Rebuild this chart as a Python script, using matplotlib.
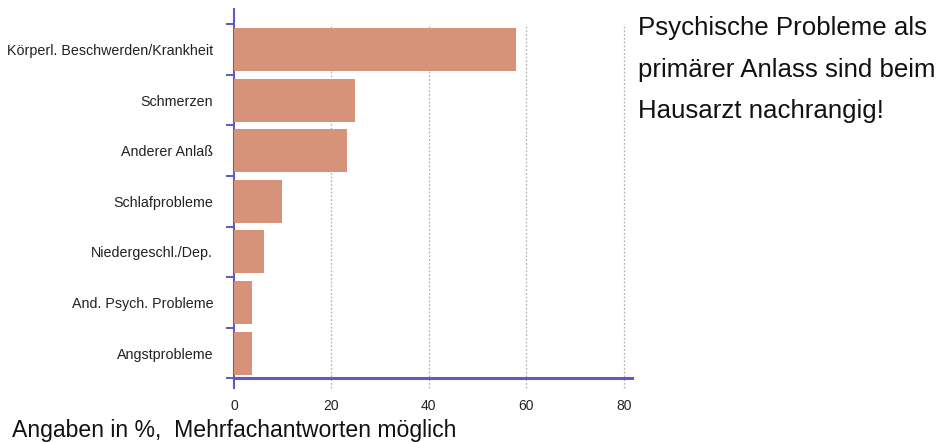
import matplotlib
matplotlib.use("Agg")
import matplotlib.pyplot as plt
from matplotlib.transforms import blended_transform_factory

plt.rcParams['font.family'] = ['Liberation Sans', 'DejaVu Sans']

# Reasons for visiting the GP (top to bottom), percentages
categories = [
    "Körperl. Beschwerden/Krankheit",
    "Schmerzen",
    "Anderer Anlaß",
    "Schlafprobleme",
    "Niedergeschl./Dep.",
    "And. Psych. Probleme",
    "Angstprobleme",
]
values = [57.8, 24.8, 23.1, 9.9, 6.2, 3.7, 3.7]
x_ticks = [0, 20, 40, 60, 80]

bar_color = "#d6937a"
axis_color = "#6457c6"
grid_color = "#b4b4b4"

W, H = 941, 442
fig = plt.figure(figsize=(W / 100, H / 100), dpi=100)
fig.patch.set_facecolor("white")

# axes box in pixels
left_px, right_px, top_px, bottom_px = 234, 632, 9, 378.3
ax = fig.add_axes([left_px / W, 1 - bottom_px / H,
                   (right_px - left_px) / W, (bottom_px - top_px) / H])

n = len(categories)
pos = list(range(n - 1, -1, -1))
ax.barh(pos, values, height=0.85, color=bar_color, zorder=3)

ax.set_xlim(0, 81.7)
ax.set_ylim(-0.5, n - 0.5 + 15.3 / 50.6)

for s in ("top", "right"):
    ax.spines[s].set_visible(False)
ax.spines["left"].set_color(axis_color)
ax.spines["left"].set_linewidth(1.5)
ax.spines["bottom"].set_color(axis_color)
ax.spines["bottom"].set_linewidth(2.2)
ax.spines["bottom"].set_zorder(5)

# category labels centred on bars, ticks on the boundaries between them
ax.set_yticks(pos)
ax.set_yticklabels(categories, fontsize=10.3, color="#222222")
ax.set_yticks([p - 0.5 for p in range(n + 1)], minor=True)
ax.tick_params(axis="y", which="major", length=0, pad=15)
ax.tick_params(axis="y", which="minor", length=5.5, width=1.4,
               color=axis_color, direction="out")

ax.set_xticks(x_ticks)
ax.set_xticklabels([str(t) for t in x_ticks], fontsize=10, color="#222222")
ax.tick_params(axis="x", which="major", length=0, pad=15)

# dotted grid lines that run a little below the axis, like ticks
tr = blended_transform_factory(ax.transData, ax.transAxes)
ext = 9.5 / (bottom_px - top_px)
y_grid_top = 1 - 15.3 / (bottom_px - top_px)
for t in x_ticks[1:]:
    ax.plot([t, t], [-ext, y_grid_top], transform=tr, color=grid_color,
            linestyle=(0, (1.5, 1.5)), linewidth=0.9, clip_on=False, zorder=1)
ax.plot([0, 0], [-ext, 0], transform=tr, color=axis_color,
        linewidth=1.5, clip_on=False, zorder=5)

# headline on the right
lines = ["Psychische Probleme als",
         "primärer Anlass sind beim",
         "Hausarzt nachrangig!"]
baselines = [35, 77, 118]
for txt, yb in zip(lines, baselines):
    fig.text(638 / W, 1 - yb / H, txt, fontsize=18.6, color="#111111",
             ha="left", va="baseline")

fig.text(12 / W, 1 - 436.5 / H, "Angaben in %,  Mehrfachantworten möglich",
         fontsize=16.6, color="#111111", ha="left", va="baseline")

fig.savefig("out.png", dpi=100, facecolor="white")
